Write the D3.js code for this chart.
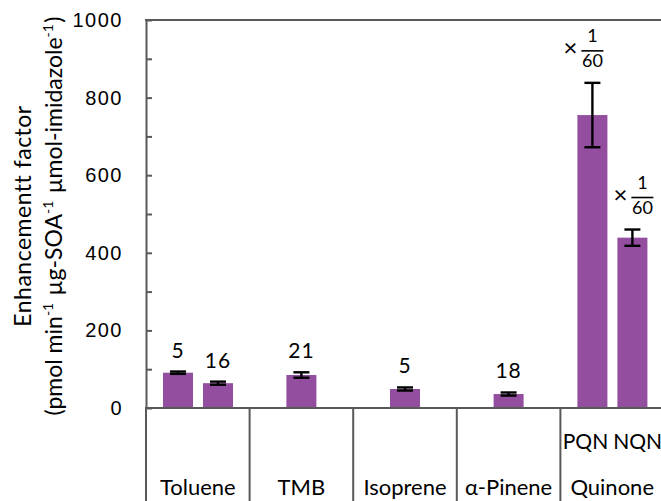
<!DOCTYPE html>
<html>
<head>
<meta charset="utf-8">
<script src="https://cdn.jsdelivr.net/npm/d3@7.9.0/dist/d3.min.js"></script>
<style>
  body { margin: 0; background: #fff; }
  svg { display: block; font-family: Lato, "Open Sans", sans-serif; }
</style>
</head>
<body>
<svg id="chart" width="661" height="501"></svg>
<script>
const groups = ["Toluene", "TMB", "Isoprene", "α-Pinene", "Quinone"];

// one entry per bar
const barGroup = ["Toluene", "Toluene", "TMB", "Isoprene", "α-Pinene", "Quinone", "Quinone"];
const barValues = [91, 64, 85, 49, 36, 755, 439];
const barErrors = [3, 4, 7, 4, 4, 83, 21];
const barCounts = ["5", "16", "21", "5", "18", "", ""];
const barSubLabels = ["", "", "", "", "", "PQN", "NQN"];
const barScaled = [false, false, false, false, false, true, true];

const yTicks = d3.range(0, 1001, 100);

const svg = d3.select("#chart");
const axisColor = "#595959";
const barColor = "#934ea0";

const y = d3.scaleLinear().domain([0, 1000]).range([408, 20]);
const x = d3.scaleBand().domain(groups).range([146, 664]);

// position of a bar inside its group
const slot = barGroup.map((g, i) => barGroup.slice(0, i).filter((b) => b === g).length);
const groupSize = (g) => barGroup.filter((b) => b === g).length;
const pair = d3.scaleBand().domain([0, 1]).range([12, 92]).paddingInner(0.25).paddingOuter(0.125);
const barW = 30;

const bars = barValues.map((v, i) => {
  const g = barGroup[i];
  const x0 = groupSize(g) > 1
    ? x(g) + pair(slot[i])
    : x(g) + x.bandwidth() / 2 - barW / 2;
  return { v, err: barErrors[i], x0, cx: x0 + barW / 2, i };
});

// bars
svg.append("g")
  .selectAll("rect")
  .data(bars)
  .join("rect")
  .attr("x", (d) => d.x0)
  .attr("width", barW)
  .attr("y", (d) => y(d.v))
  .attr("height", (d) => y(0) - y(d.v))
  .attr("fill", barColor);

// error bars
const eb = svg.append("g").attr("stroke", "#000").attr("stroke-width", 2.4);
bars.forEach((d) => {
  eb.append("line").attr("x1", d.cx).attr("x2", d.cx)
    .attr("y1", y(d.v + d.err)).attr("y2", y(d.v - d.err));
  [d.v + d.err, d.v - d.err].forEach((e) => {
    eb.append("line").attr("x1", d.cx - 8).attr("x2", d.cx + 8)
      .attr("y1", y(e)).attr("y2", y(e));
  });
});

// count labels
svg.append("g")
  .selectAll("text")
  .data(bars.filter((d) => barCounts[d.i]))
  .join("text")
  .attr("x", (d) => d.cx)
  .attr("y", (d) => y(d.v + d.err) - 14)
  .attr("text-anchor", "middle")
  .attr("font-size", 21)
  .attr("letter-spacing", 1)
  .text((d) => barCounts[d.i]);

// x 1/60 notes
bars.filter((d) => barScaled[d.i]).forEach((d) => {
  const fx = d.cx + (d.i === barValues.length - 1 ? 10 : 0);
  const ly = y(d.v + d.err) - 32;
  const g = svg.append("g").attr("font-size", 18).attr("text-anchor", "middle");
  g.append("text").attr("x", fx - 22).attr("y", ly + 5).attr("font-size", 24).text("×");
  g.append("text").attr("x", fx).attr("y", ly - 9).text("1");
  g.append("line").attr("x1", fx - 11).attr("x2", fx + 11)
    .attr("y1", ly).attr("y2", ly).attr("stroke", "#000").attr("stroke-width", 1.6);
  g.append("text").attr("x", fx).attr("y", ly + 16).text("60");
});

// left axis, ticks pointing inward
const yAxis = d3.axisLeft(y)
  .tickValues(yTicks)
  .tickSizeInner(-6)
  .tickSizeOuter(0)
  .tickPadding(23)
  .tickFormat((d) => (d % 200 === 0 ? d : ""));
const ya = svg.append("g").attr("transform", "translate(146,0)").call(yAxis);
ya.select(".domain").attr("stroke", axisColor).attr("stroke-width", 2);
ya.selectAll(".tick line").attr("stroke", axisColor).attr("stroke-width", 2);
ya.selectAll(".tick text").attr("fill", "#000").attr("font-size", 20)
  .attr("letter-spacing", 1.5).attr("font-family", null);

// frame lines
const frame = svg.append("g").attr("stroke", axisColor).attr("stroke-width", 2);
frame.append("line").attr("x1", 145).attr("x2", 661).attr("y1", y(1000)).attr("y2", y(1000));
frame.append("line").attr("x1", 145).attr("x2", 661).attr("y1", y(0)).attr("y2", y(0));
groups.concat([null]).forEach((g, i) => {
  const xx = i < groups.length ? x(g) : x.range()[1];
  frame.append("line").attr("x1", xx).attr("x2", xx).attr("y1", y(0)).attr("y2", 501);
});

// sub labels (PQN / NQN)
svg.append("g")
  .selectAll("text")
  .data(bars.filter((d) => barSubLabels[d.i]))
  .join("text")
  .attr("x", (d) => (slot[d.i] === 0 ? x(barGroup[d.i]) + x.bandwidth() / 2 - 4 : x(barGroup[d.i]) + x.bandwidth() / 2 + 1))
  .attr("text-anchor", (d) => (slot[d.i] === 0 ? "end" : "start"))
  .attr("y", 449)
  .attr("font-size", 21)
  .text((d) => barSubLabels[d.i]);

// category labels
svg.append("g")
  .selectAll("text")
  .data(groups)
  .join("text")
  .attr("x", (d) => x(d) + x.bandwidth() / 2)
  .attr("y", 495)
  .attr("text-anchor", "middle")
  .attr("font-size", 22)
  .text((d) => d);

// y title
const title = svg.append("g")
  .attr("transform", "translate(0,216) rotate(-90)")
  .attr("text-anchor", "middle")
  .attr("font-size", 23);
title.append("text").attr("x", 0).attr("y", 31).attr("letter-spacing", 0.5).text("Enhancementt factor");
const t2 = title.append("text").attr("x", 0).attr("y", 62);
const parts = [["(pmol min", "-1"], [" µg-SOA", "-1"], [" µmol-imidazole", "-1"], [")", null]];
parts.forEach(([txt, sup]) => {
  t2.append("tspan").text(txt);
  if (sup) {
    t2.append("tspan").attr("dy", -9).attr("font-size", 14).text(sup);
    t2.append("tspan").attr("dy", 9).text("\u200a");
  }
});
</script>
</body>
</html>
